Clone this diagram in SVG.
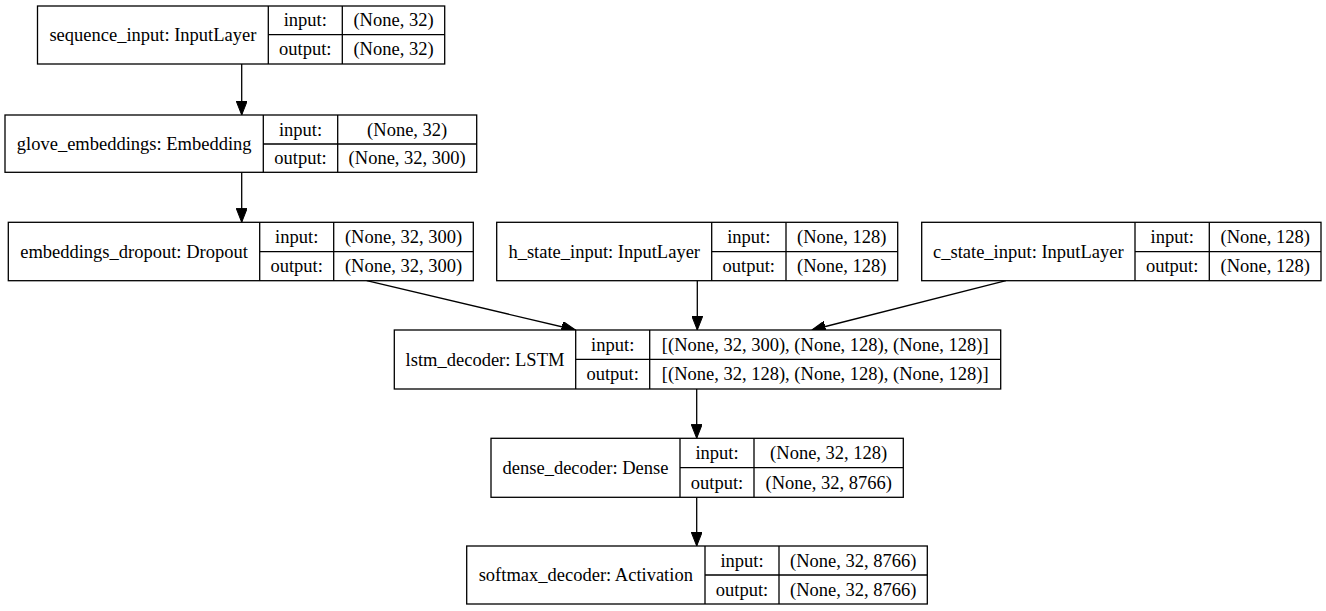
<svg xmlns="http://www.w3.org/2000/svg" width="1326" height="611" viewBox="0 0 1326 611">
<style>
.bg{fill:#fff}
.box{fill:#fff;stroke:#000;stroke-width:1.3}
.div{fill:none;stroke:#000;stroke-width:1.3}
.edge{fill:none;stroke:#000;stroke-width:1.3}
text{font-family:"Liberation Serif","Times New Roman",serif;font-size:18.5px;text-anchor:middle;fill:#000}
</style>
<defs>
<marker id="arr" markerUnits="userSpaceOnUse" viewBox="0 0 14 11" refX="14" refY="5.5" markerWidth="14" markerHeight="11" orient="auto">
<path d="M0,0 L14,5.5 L0,11 Z" fill="#000" stroke="#000" stroke-width="1"/>
</marker>
</defs>
<rect class="bg" x="0" y="0" width="1326" height="611"/>

<g id="edges">
<line class="edge" x1="241.7" y1="64" x2="241.7" y2="115" marker-end="url(#arr)"/>
<line class="edge" x1="241.7" y1="172.3" x2="241.7" y2="222.3" marker-end="url(#arr)"/>
<line class="edge" x1="366.7" y1="280.7" x2="575.5" y2="330" marker-end="url(#arr)"/>
<line class="edge" x1="697.3" y1="280.7" x2="697.3" y2="330" marker-end="url(#arr)"/>
<line class="edge" x1="1006" y1="280.7" x2="811.7" y2="330" marker-end="url(#arr)"/>
<line class="edge" x1="696.7" y1="389" x2="696.7" y2="438.3" marker-end="url(#arr)"/>
<line class="edge" x1="696.7" y1="497.3" x2="696.7" y2="546" marker-end="url(#arr)"/>
</g>

<g id="sequence_input">
<rect class="box" x="37.5" y="6" width="407.2" height="58"/>
<path class="div" d="M268.3,6 V64 M342.3,6 V64 M268.3,34.7 H444.7"/>
<text x="152.9" y="41">sequence_input: InputLayer</text>
<text x="305.3" y="26.3">input:</text>
<text x="305.3" y="55.3">output:</text>
<text x="393.5" y="26.3">(None, 32)</text>
<text x="393.5" y="55.3">(None, 32)</text>
</g>

<g id="glove_embeddings">
<rect class="box" x="5" y="115" width="471.7" height="57.3"/>
<path class="div" d="M263.3,115 V172.3 M337.7,115 V172.3 M263.3,144 H476.7"/>
<text x="134.2" y="149.6">glove_embeddings: Embedding</text>
<text x="300.5" y="135.5">input:</text>
<text x="300.5" y="164.2">output:</text>
<text x="407.2" y="135.5">(None, 32)</text>
<text x="407.2" y="164.2">(None, 32, 300)</text>
</g>

<g id="embeddings_dropout">
<rect class="box" x="8.3" y="222.3" width="465" height="58.4"/>
<path class="div" d="M259.7,222.3 V280.7 M333.7,222.3 V280.7 M259.7,251.7 H473.3"/>
<text x="134" y="257.5">embeddings_dropout: Dropout</text>
<text x="296.7" y="243">input:</text>
<text x="296.7" y="272.2">output:</text>
<text x="403.5" y="243">(None, 32, 300)</text>
<text x="403.5" y="272.2">(None, 32, 300)</text>
</g>

<g id="h_state_input">
<rect class="box" x="496.7" y="222.3" width="401" height="58.4"/>
<path class="div" d="M711.7,222.3 V280.7 M786,222.3 V280.7 M711.7,251.7 H897.7"/>
<text x="604.2" y="257.5">h_state_input: InputLayer</text>
<text x="748.8" y="243">input:</text>
<text x="748.8" y="272.2">output:</text>
<text x="841.8" y="243">(None, 128)</text>
<text x="841.8" y="272.2">(None, 128)</text>
</g>

<g id="c_state_input">
<rect class="box" x="921.7" y="222.3" width="399.3" height="58.4"/>
<path class="div" d="M1135,222.3 V280.7 M1209.3,222.3 V280.7 M1135,251.7 H1321"/>
<text x="1028.3" y="257.5">c_state_input: InputLayer</text>
<text x="1172.2" y="243">input:</text>
<text x="1172.2" y="272.2">output:</text>
<text x="1265.2" y="243">(None, 128)</text>
<text x="1265.2" y="272.2">(None, 128)</text>
</g>

<g id="lstm_decoder">
<rect class="box" x="394.3" y="330" width="606.4" height="59"/>
<path class="div" d="M575.7,330 V389 M649.7,330 V389 M575.7,359.3 H1000.7"/>
<text x="485" y="365.5">lstm_decoder: LSTM</text>
<text x="612.7" y="350.7">input:</text>
<text x="612.7" y="380.2">output:</text>
<text x="825.2" y="350.7">[(None, 32, 300), (None, 128), (None, 128)]</text>
<text x="825.2" y="380.2">[(None, 32, 128), (None, 128), (None, 128)]</text>
</g>

<g id="dense_decoder">
<rect class="box" x="491" y="438.3" width="412.3" height="59"/>
<path class="div" d="M680,438.3 V497.3 M754,438.3 V497.3 M680,467.7 H903.3"/>
<text x="585.5" y="473.8">dense_decoder: Dense</text>
<text x="717" y="459">input:</text>
<text x="717" y="488.5">output:</text>
<text x="828.7" y="459">(None, 32, 128)</text>
<text x="828.7" y="488.5">(None, 32, 8766)</text>
</g>

<g id="softmax_decoder">
<rect class="box" x="466.7" y="546" width="460.6" height="58"/>
<path class="div" d="M705,546 V604 M779,546 V604 M705,575 H927.3"/>
<text x="585.8" y="581">softmax_decoder: Activation</text>
<text x="742" y="566.5">input:</text>
<text x="742" y="595.5">output:</text>
<text x="853.2" y="566.5">(None, 32, 8766)</text>
<text x="853.2" y="595.5">(None, 32, 8766)</text>
</g>
</svg>
